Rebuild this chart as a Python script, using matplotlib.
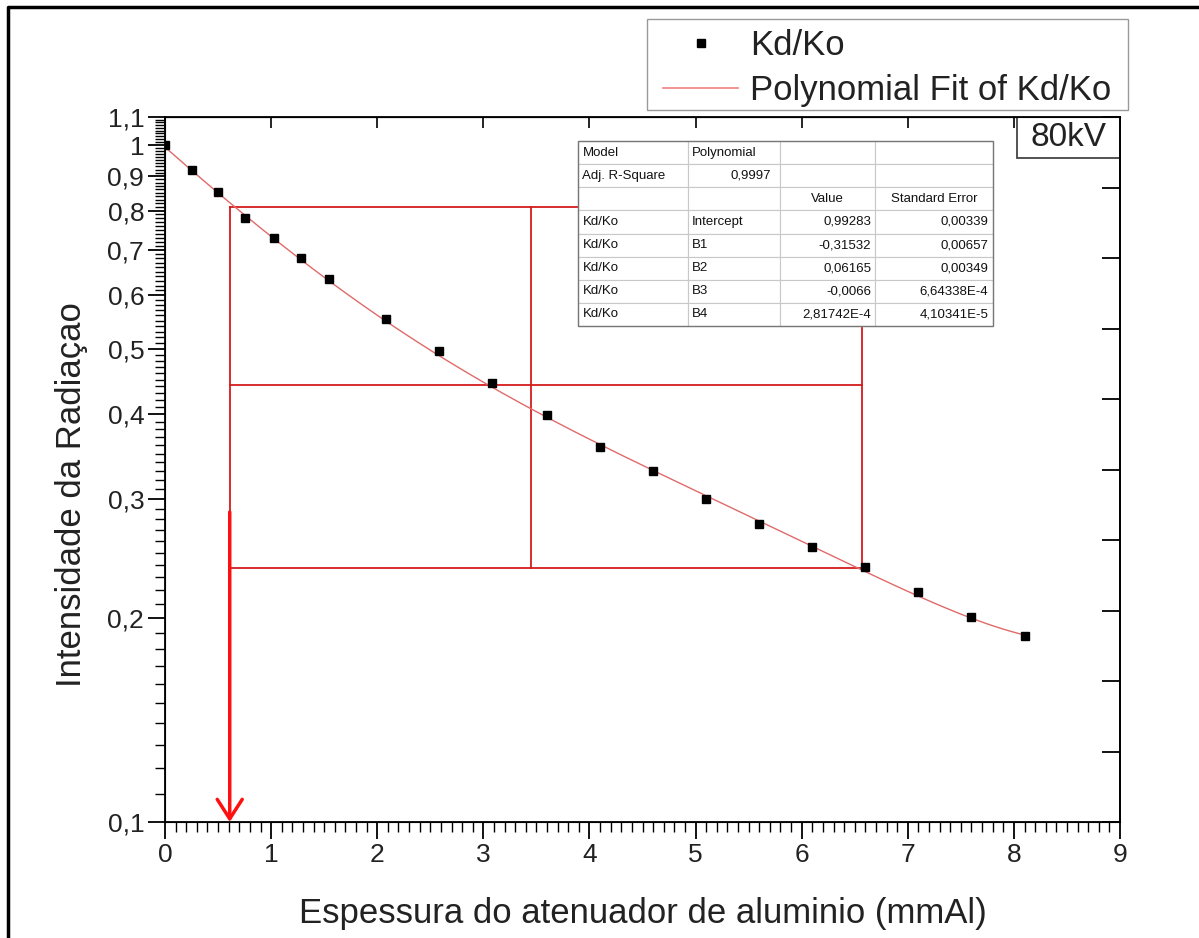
import numpy as np
import matplotlib.pyplot as plt
from matplotlib.ticker import FixedLocator, MultipleLocator, NullFormatter
from matplotlib.patches import Rectangle
from matplotlib.lines import Line2D

plt.rcParams['font.family'] = ['Liberation Sans', 'DejaVu Sans']

espessura = [0, 0.25, 0.5, 0.75, 1.03, 1.28, 1.55, 2.08, 2.58, 3.08, 3.6,
             4.1, 4.6, 5.1, 5.6, 6.1, 6.6, 7.1, 7.6, 8.1]
kd_ko = [1.0, 0.918, 0.852, 0.780, 0.729, 0.681, 0.634, 0.553, 0.496, 0.445,
         0.399, 0.358, 0.330, 0.300, 0.276, 0.255, 0.238, 0.219, 0.201, 0.188]

# polynomial fit coefficients, as listed in the table
coef_names = ['Intercept', 'B1', 'B2', 'B3', 'B4']
coef_vals = [0.99283, -0.31532, 0.06165, -0.0066, 2.81742e-4]
coef_text = ['0,99283', '-0,31532', '0,06165', '-0,0066', '2,81742E-4']
coef_err = ['0,00339', '0,00657', '0,00349', '6,64338E-4', '4,10341E-5']
adj_r2 = '0,9997'

# red guide lines drawn by hand on the original
guide_x = [0.61, 3.45, 6.57]
guide_y = [0.237, 0.442, 0.81]
arrow_x = 0.61
arrow_y = [0.287, 0.1]

y_major = [0.1, 0.2, 0.3, 0.4, 0.5, 0.6, 0.7, 0.8, 0.9, 1.0, 1.1]
y_labels = ['0,1', '0,2', '0,3', '0,4', '0,5', '0,6', '0,7', '0,8', '0,9', '1', '1,1']

fig = plt.figure(figsize=(11.99, 9.38), dpi=100)
ax = fig.add_axes([165 / 1199, 1 - 822 / 938, 955 / 1199, 705 / 938])

# fit curve from the table coefficients
xf = np.linspace(0, espessura[-1], 200)
yf = np.polynomial.polynomial.polyval(xf, coef_vals)
ax.plot(xf, yf, color='#e06a6a', lw=1.0, zorder=3)
ax.plot(espessura, kd_ko, 's', color='black', ms=6, zorder=4)

ax.set_yscale('log')
ax.set_xlim(0, 9)
ax.set_ylim(0.1, 1.1)

ax.yaxis.set_major_locator(FixedLocator(y_major))
ax.set_yticklabels(y_labels)
minor = [round(v, 2) for v in np.arange(0.11, 1.1, 0.01) if round(v, 2) not in y_major]
ax.yaxis.set_minor_locator(FixedLocator(minor))
ax.yaxis.set_minor_formatter(NullFormatter())
ax.xaxis.set_major_locator(MultipleLocator(1))
ax.xaxis.set_minor_locator(MultipleLocator(0.1))

ax.tick_params(which='major', direction='out', length=12, width=1.3, labelsize=19, pad=3,
               labelcolor='#222222')
ax.tick_params(which='minor', direction='out', length=7, width=1.0)
ax.tick_params(right=False, top=False, which='both')
for s in ax.spines.values():
    s.set_linewidth(1.3)

# top axis: integer ticks pointing in
top = ax.secondary_xaxis('top')
top.xaxis.set_major_locator(MultipleLocator(1))
top.tick_params(direction='in', length=8, width=1.2, labeltop=False)

# right axis: evenly spaced ticks pointing in
right = ax.twinx()
right.set_ylim(0.1, 1.1)
right.yaxis.set_major_locator(MultipleLocator(0.1))
right.tick_params(direction='in', length=13, width=1.3, labelright=False)
right.spines['right'].set_linewidth(1.3)

ax.set_xlabel('Espessura do atenuador de aluminio (mmAl)', fontsize=25, labelpad=22,
              color='#222222')
ax.set_ylabel('Intensidade da Radiaçao', fontsize=25, labelpad=14, color='#222222')
ax.yaxis.label.set_y(0.464)

# red guides
rc = '#d41b1b'
ax.plot([guide_x[0], guide_x[2], guide_x[2], guide_x[0], guide_x[0]],
        [guide_y[2], guide_y[2], guide_y[0], guide_y[0], guide_y[2]], color=rc, lw=1.3, zorder=2)
ax.plot([guide_x[0], guide_x[2]], [guide_y[1], guide_y[1]], color=rc, lw=1.3, zorder=2)
ax.plot([guide_x[1], guide_x[1]], [guide_y[0], guide_y[2]], color=rc, lw=1.3, zorder=2)
ax.annotate('', xy=(arrow_x, arrow_y[1]), xytext=(arrow_x, arrow_y[0]),
            arrowprops=dict(arrowstyle='->,head_length=0.7,head_width=0.45', color='#ff1010',
                            lw=2.5, shrinkA=0, shrinkB=0, mutation_scale=20), zorder=5)

# fit table
rows = [['Model', 'Polynomial', '', ''],
        ['Adj. R-Square', adj_r2, '', ''],
        ['', '', 'Value', 'Standard Error']]
for n, t, e in zip(coef_names, coef_text, coef_err):
    rows.append(['Kd/Ko', n, t, e])
x0, x1 = (578 - 165) / 955, (993 - 165) / 955
y0, y1 = (822 - 326) / 705, (822 - 141) / 705
tab = ax.table(cellText=rows, colWidths=[110, 92, 95, 118], bbox=[x0, y0, x1 - x0, y1 - y0],
               zorder=6)
tab.auto_set_font_size(False)
for (r, c), cell in tab.get_celld().items():
    cell.set_edgecolor('#c8c8c8')
    cell.set_linewidth(0.8)
    cell.set_facecolor('white')
    cell.get_text().set_fontsize(9.5)
    cell.get_text().set_color('#111111')
    if c >= 2 and r != 2:
        cell.get_text().set_ha('right')
        cell.PAD = 0.04
    elif r == 2:
        cell.get_text().set_ha('center')
    elif r == 1 and c == 1:
        cell.get_text().set_ha('right')
    else:
        cell.get_text().set_ha('left')
        cell.PAD = 0.04
ax.add_patch(Rectangle((x0, y0), x1 - x0, y1 - y0, transform=ax.transAxes, fill=False,
                       ec='#777777', lw=1.0, zorder=7))

# 80kV box in the top right corner
bx0, by0 = (1017 - 165) / 955, (822 - 158) / 705
ax.add_patch(Rectangle((bx0, by0), 1 - bx0, 1 - by0, transform=ax.transAxes, fc='white',
                       ec='#444444', lw=1.3, zorder=8))
ax.text((bx0 + 1) / 2, (by0 + 1) / 2, '80kV', transform=ax.transAxes, fontsize=24,
        ha='center', va='center', color='#222222', zorder=9)

# legend, with its frame drawn separately
fig.add_artist(Rectangle((647 / 1199, 1 - 110 / 938), 481 / 1199, 91 / 938,
                         transform=fig.transFigure, fc='white', ec='#999999', lw=1.0))
handles = [Line2D([], [], marker='s', ls='none', color='black', ms=6),
           Line2D([], [], color='#f08080', lw=1.2)]
leg = fig.legend(handles, ['Kd/Ko', 'Polynomial Fit of Kd/Ko'], loc='upper right',
                 bbox_to_anchor=(1122 / 1199, 1 - 19 / 938), fontsize=25, frameon=False,
                 handlelength=2.16, borderpad=0.3, labelspacing=0.33, handletextpad=0.35,
                 borderaxespad=0)
for t in leg.get_texts():
    t.set_color('#222222')

# outer frame of the picture
fig.add_artist(Line2D([8 / 1199, 8 / 1199, 1.0], [0.0, 1 - 7 / 938, 1 - 7 / 938],
                      transform=fig.transFigure, color='black', lw=2.5))

fig.savefig('out.png', dpi=100)
